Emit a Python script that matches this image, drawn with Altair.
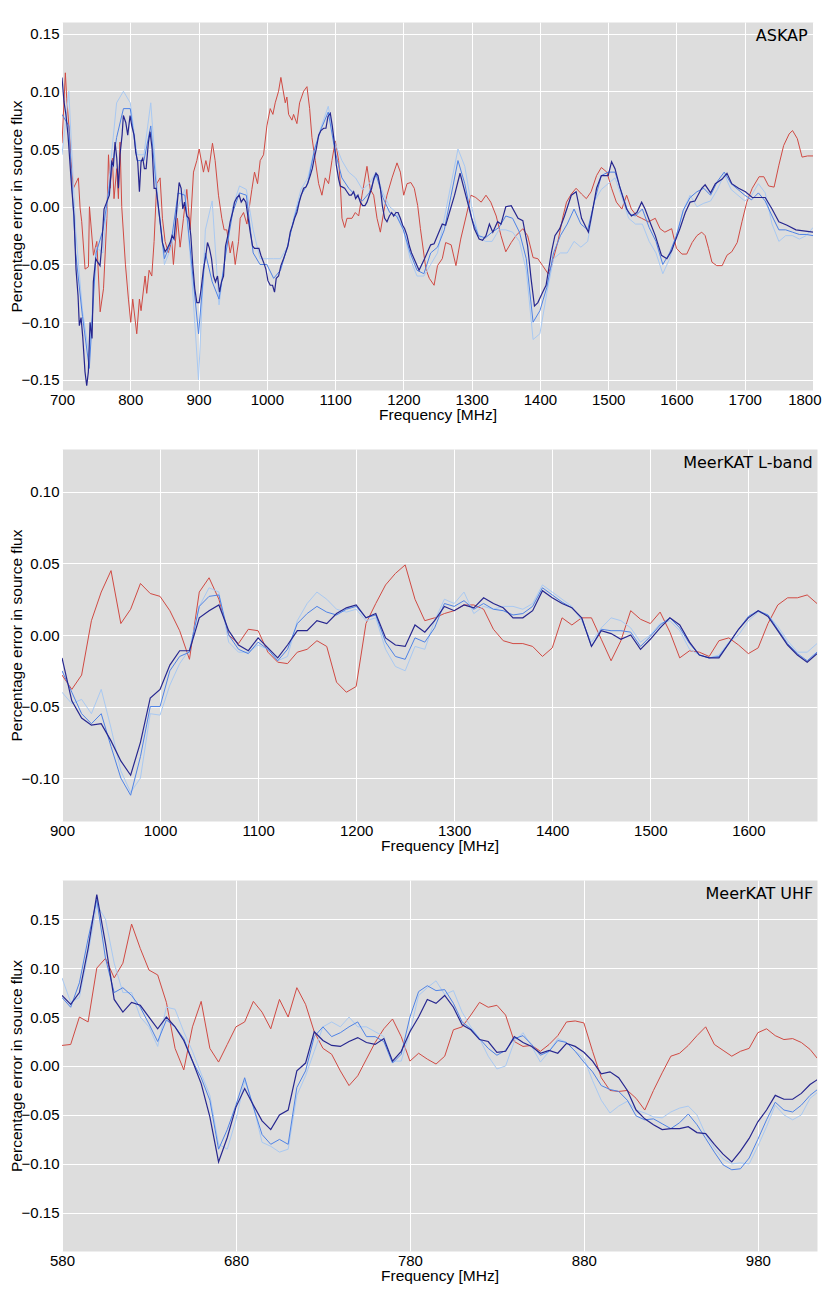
import altair as alt
import pandas as pd

# ---------------- ASKAP panel (700-1800 MHz) ----------------
# dark-blue and red curves: (frequency MHz, fractional error) points
ASKAP_NAVY_PTS = [
    (700.0, 0.112), (702.9, 0.091), (705.9, 0.079), (708.8, 0.062), (714.2, 0.016),
    (717.6, -0.008), (720.5, -0.054), (723.5, -0.077), (725.4, -0.103), (727.9, -0.096),
    (730.3, -0.112), (733.7, -0.143), (736.2, -0.155), (738.6, -0.143), (741.1, -0.100),
    (744.0, -0.114), (745.9, -0.065), (749.4, -0.045), (752.3, -0.048), (755.7, -0.051),
    (758.2, -0.034), (761.6, -0.002), (765.5, 0.004), (769.4, 0.010), (772.8, 0.039),
    (775.3, 0.036), (777.7, 0.056), (780.2, 0.042), (782.6, 0.016), (785.0, 0.045),
    (788.0, 0.062), (789.9, 0.079), (793.4, 0.073), (796.3, 0.062), (799.7, 0.079),
    (802.2, 0.070), (805.6, 0.062), (808.0, 0.047), (810.9, 0.039), (813.4, 0.013),
    (815.8, 0.039), (818.3, 0.042), (820.7, 0.033), (823.2, 0.033), (826.6, 0.056),
    (829.0, 0.065), (832.0, 0.050), (834.9, 0.016), (837.8, 0.016), (840.3, 0.004),
    (843.7, -0.013), (847.1, -0.031), (851.0, -0.039), (854.4, -0.036), (858.4, -0.031),
    (861.3, -0.025), (864.2, -0.028), (868.1, -0.002), (871.6, 0.021), (874.5, 0.016),
    (876.9, -0.002), (879.4, 0.004), (882.8, -0.008), (885.7, -0.010), (888.7, -0.025),
    (891.6, -0.051), (894.5, -0.071), (897.5, -0.083), (900.9, -0.083), (903.8, -0.071),
    (907.2, -0.054), (910.7, -0.042), (913.1, -0.031), (916.0, -0.036), (919.0, -0.045),
    (921.9, -0.060), (924.8, -0.065), (927.8, -0.060), (930.7, -0.074), (933.6, -0.065),
    (936.6, -0.060), (939.5, -0.034), (942.9, -0.025), (946.3, -0.013), (949.8, -0.005),
    (952.7, 0.004), (956.1, 0.008), (959.5, 0.010), (962.5, 0.004), (965.9, 0.007),
    (969.3, 0.004), (972.2, -0.008), (975.7, -0.022), (979.1, -0.034), (982.0, -0.036),
    (985.4, -0.036), (988.4, -0.036), (991.3, -0.042), (995.2, -0.048), (998.6, -0.054),
    (1001.6, -0.064), (1005.0, -0.068), (1008.4, -0.068), (1011.3, -0.074), (1013.8, -0.062),
    (1017.2, -0.060), (1020.6, -0.051), (1024.5, -0.045), (1028.0, -0.039), (1030.9, -0.034),
    (1034.3, -0.022), (1037.7, -0.016), (1040.7, -0.010), (1044.1, -0.005), (1047.5, 0.004),
    (1050.4, 0.010), (1053.9, 0.016), (1057.3, 0.017), (1060.2, 0.021), (1063.6, 0.027),
    (1066.6, 0.033), (1069.5, 0.042), (1072.4, 0.050), (1075.9, 0.062), (1079.3, 0.066),
    (1083.2, 0.068), (1086.6, 0.068), (1089.5, 0.078), (1093.0, 0.081), (1095.9, 0.070),
    (1098.8, 0.056), (1101.8, 0.036), (1105.2, 0.024), (1107.6, 0.018), (1111.0, 0.017),
    (1114.0, 0.016), (1117.4, 0.013), (1120.8, 0.010), (1123.8, 0.010), (1127.2, 0.013),
    (1130.1, 0.007), (1133.5, 0.010), (1137.0, 0.004), (1140.4, 0.001), (1143.8, 0.001),
    (1146.7, 0.004), (1150.1, 0.010), (1153.6, 0.016), (1156.5, 0.024), (1159.9, 0.029),
    (1162.8, 0.027), (1166.3, 0.016), (1169.2, 0.001), (1172.6, -0.010), (1176.0, -0.013),
    (1179.5, -0.008), (1182.9, -0.005), (1185.8, -0.008), (1189.2, -0.005), (1192.2, -0.005),
    (1195.6, -0.010), (1199.0, -0.016), (1201.9, -0.019), (1205.4, -0.025), (1208.8, -0.034),
    (1212, -0.040), (1223, -0.055), (1231, -0.045), (1240, -0.033), (1245, -0.032),
    (1257, -0.015), (1262, -0.016), (1275, 0.010), (1283, 0.029), (1294, 0.004),
    (1304, -0.019), (1311, -0.028), (1316, -0.029), (1321, -0.025), (1326, -0.015),
    (1331, -0.022), (1338, -0.013), (1343, -0.015), (1350, 0.000), (1358, 0.001),
    (1368, -0.010), (1375, -0.012), (1382, -0.034), (1387, -0.062), (1392, -0.086),
    (1397, -0.083), (1404, -0.074), (1409, -0.068), (1417, -0.039), (1422, -0.025),
    (1429, -0.019), (1436, -0.008), (1446, 0.010), (1453, 0.013), (1461, -0.010),
    (1471, -0.022), (1475, -0.010), (1483, 0.016), (1490, 0.027), (1500, 0.027),
    (1505, 0.039), (1510, 0.033), (1517, 0.017), (1527, -0.002), (1534, -0.008),
    (1542, -0.005), (1549, 0.004), (1554, -0.002), (1561, -0.013), (1569, -0.025),
    (1578, -0.042), (1586, -0.045), (1593, -0.038), (1598, -0.030), (1605, -0.019),
    (1613, -0.005), (1620, 0.004), (1627, 0.005), (1637, 0.016), (1642, 0.019),
    (1650, 0.012), (1657, 0.020), (1667, 0.024), (1674, 0.029), (1681, 0.020),
    (1691, 0.016), (1701, 0.013), (1711, 0.008), (1721, 0.008), (1730, 0.008),
    (1740, -0.002), (1750, -0.013), (1762, -0.016), (1775, -0.020), (1800, -0.022),
]
ASKAP_RED_PTS = [
    (700.0, 0.055), (704.9, 0.116), (706.9, 0.094), (710.8, 0.065), (713.2, 0.039),
    (716.7, 0.016), (724.0, 0.025), (726.5, -0.001), (728.9, -0.013), (733.8, -0.054),
    (738.7, -0.052), (740.2, 0.000), (746.1, -0.042), (751.0, -0.030), (755.9, -0.091),
    (760.8, -0.071), (765.7, -0.010), (768.1, 0.045), (770.4, 0.016), (773.8, 0.042),
    (776.2, 0.007), (780.2, 0.033), (782.6, 0.007), (785.0, 0.056), (787.5, 0.000),
    (792.9, -0.050), (797.3, -0.080), (800.7, -0.100), (803.6, -0.080), (809.5, -0.110),
    (813.4, -0.080), (815.8, -0.090), (821.7, -0.060), (824.1, -0.075), (827.6, -0.055),
    (831.5, -0.060), (834.9, -0.030), (838.8, 0.020), (843.7, 0.025), (847.1, -0.010),
    (851.0, -0.030), (855.9, -0.040), (860.8, -0.030), (863.2, -0.050), (869.1, -0.010),
    (873.0, -0.035), (877.9, -0.010), (882.8, 0.015), (887.7, -0.020), (892.6, 0.030),
    (897.5, 0.040), (900.9, 0.050), (907.2, 0.030), (910.7, 0.040), (914.6, 0.030),
    (920.4, 0.055), (924.3, 0.040), (929.2, 0.010), (934.1, -0.010), (937.5, -0.020),
    (941.4, -0.020), (946.3, -0.040), (949.8, -0.030), (953.7, -0.050), (958.6, -0.030),
    (961.0, -0.010), (965.9, -0.005), (970.8, -0.015), (978.1, 0.015), (982.0, 0.030),
    (986.4, 0.020), (990.3, 0.040), (995.2, 0.045), (1000.1, 0.070), (1005.0, 0.085),
    (1008.9, 0.080), (1012.3, 0.090), (1017.2, 0.100), (1020.6, 0.112), (1027.0, 0.090),
    (1029.4, 0.095), (1031.9, 0.080), (1036.8, 0.075), (1039.2, 0.080), (1044.1, 0.072),
    (1048.0, 0.090), (1053.9, 0.100), (1058.8, 0.104), (1062.7, 0.085), (1066.1, 0.060),
    (1071.0, 0.040), (1075.9, 0.020), (1080.7, 0.010), (1085.6, 0.025), (1090.5, 0.020),
    (1095.4, 0.040), (1100.3, 0.057), (1105.2, 0.040), (1107.6, 0.020), (1110.1, -0.010),
    (1114.0, -0.018), (1117.4, -0.010), (1124.7, -0.010), (1129.6, -0.005), (1134.5, -0.008),
    (1139.4, 0.010), (1146.7, 0.035), (1151.6, 0.015), (1156.5, 0.010), (1161.4, -0.010),
    (1166.3, -0.022), (1171.1, -0.005), (1176.0, 0.010), (1183.4, 0.025), (1190.7, 0.038),
    (1195.6, 0.030), (1200.5, 0.010), (1205.4, 0.020), (1211, 0.021), (1216, 0.016),
    (1221, 0.001), (1225, -0.019), (1233, -0.054), (1238, -0.062), (1245, -0.068),
    (1250, -0.051), (1257, -0.045), (1262, -0.031), (1270, -0.033), (1277, -0.051),
    (1284, -0.028), (1292, -0.008), (1299, 0.010), (1306, 0.008), (1314, 0.004),
    (1321, 0.010), (1328, 0.004), (1336, -0.008), (1343, -0.025), (1350, -0.039),
    (1358, -0.031), (1365, -0.025), (1375, -0.019), (1382, -0.025), (1390, -0.044),
    (1397, -0.045), (1404, -0.051), (1412, -0.058), (1417, -0.051), (1426, -0.031),
    (1434, -0.008), (1439, 0.004), (1446, 0.011), (1453, 0.016), (1461, 0.011),
    (1468, 0.007), (1475, 0.013), (1483, 0.027), (1490, 0.034), (1498, 0.030),
    (1505, 0.016), (1512, 0.004), (1520, -0.002), (1527, 0.010), (1534, -0.002),
    (1542, -0.008), (1549, -0.010), (1559, -0.013), (1569, -0.010), (1576, -0.019),
    (1583, -0.022), (1593, -0.019), (1600, -0.036), (1608, -0.041), (1615, -0.041),
    (1623, -0.031), (1630, -0.025), (1637, -0.022), (1642, -0.025), (1647, -0.036),
    (1652, -0.048), (1659, -0.051), (1667, -0.051), (1674, -0.042), (1681, -0.039),
    (1689, -0.031), (1696, -0.013), (1703, 0.004), (1711, 0.016), (1721, 0.026),
    (1728, 0.026), (1735, 0.018), (1743, 0.017), (1750, 0.036), (1757, 0.053),
    (1765, 0.063), (1770, 0.066), (1777, 0.059), (1784, 0.043), (1792, 0.044),
    (1800, 0.044),
]
# mid-blue and light-blue curves sampled every 10 MHz
ASKAP_FREQ = [
    700, 710, 720, 730, 740, 750, 760, 770, 780, 790,
    800, 810, 820, 830, 840, 850, 860, 870, 880, 890,
    900, 910, 920, 930, 940, 950, 960, 970, 980, 990,
    1000, 1010, 1020, 1030, 1040, 1050, 1060, 1070, 1080, 1090,
    1100, 1110, 1120, 1130, 1140, 1150, 1160, 1170, 1180, 1190,
    1200, 1210, 1220, 1230, 1240, 1250, 1260, 1270, 1280, 1290,
    1300, 1310, 1320, 1330, 1340, 1350, 1360, 1370, 1380, 1390,
    1400, 1410, 1420, 1430, 1440, 1450, 1460, 1470, 1480, 1490,
    1500, 1510, 1520, 1530, 1540, 1550, 1560, 1570, 1580, 1590,
    1600, 1610, 1620, 1630, 1640, 1650, 1660, 1670, 1680, 1690,
    1700, 1710, 1720, 1730, 1740, 1750, 1760, 1770, 1780, 1790,
    1800,
]
ASKAP_MID = [
    0.080, 0.070, -0.040, -0.095, -0.140, -0.040, -0.020, 0.020, 0.060, 0.085,
    0.085, 0.040, 0.040, 0.070, 0.005, -0.045, -0.030, 0.012, 0.010, -0.050,
    -0.110, -0.040, -0.065, -0.080, -0.040, -0.005, 0.012, 0.010, -0.040, -0.050,
    -0.050, -0.062, -0.055, -0.035, -0.010, 0.010, 0.020, 0.050, 0.068, 0.082,
    0.048, 0.025, 0.016, 0.010, 0.005, 0.012, 0.028, 0.008, -0.005, -0.008,
    -0.020, -0.040, -0.055, -0.058, -0.040, -0.035, -0.020, 0.010, 0.040, 0.020,
    -0.010, -0.025, -0.027, -0.022, -0.018, -0.008, -0.010, -0.022, -0.045, -0.100,
    -0.090, -0.070, -0.040, -0.025, -0.015, -0.002, -0.015, -0.020, 0.005, 0.027,
    0.030, 0.030, 0.012, -0.006, -0.008, -0.002, -0.018, -0.030, -0.050, -0.040,
    -0.025, -0.003, 0.008, 0.013, 0.016, 0.010, 0.022, 0.030, 0.020, 0.015,
    0.010, 0.006, 0.012, 0.005, -0.008, -0.020, -0.020, -0.022, -0.024, -0.024,
    -0.025,
]
ASKAP_LIGHT = [
    0.045, 0.100, -0.020, -0.090, -0.130, -0.035, -0.040, 0.030, 0.090, 0.100,
    0.090, 0.045, 0.045, 0.090, 0.010, -0.050, -0.035, 0.000, 0.015, -0.060,
    -0.150, -0.020, 0.005, -0.085, -0.040, 0.000, 0.018, 0.015, -0.020, -0.045,
    -0.045, -0.045, -0.045, -0.035, -0.008, 0.015, 0.025, 0.050, 0.070, 0.087,
    0.055, 0.040, 0.030, 0.025, 0.015, 0.020, 0.030, 0.012, 0.000, -0.005,
    -0.020, -0.045, -0.060, -0.060, -0.050, -0.040, -0.010, 0.020, 0.050, 0.035,
    0.000, -0.025, -0.030, -0.030, -0.020, -0.020, -0.022, -0.030, -0.055, -0.115,
    -0.110, -0.075, -0.045, -0.040, -0.040, -0.030, -0.035, -0.030, 0.005, 0.015,
    0.020, 0.025, 0.008, -0.010, -0.015, -0.015, -0.030, -0.040, -0.058, -0.045,
    -0.025, -0.003, 0.010, 0.000, 0.003, 0.005, 0.015, 0.028, 0.015, 0.010,
    0.005, 0.010, 0.020, 0.012, -0.015, -0.030, -0.025, -0.025, -0.028, -0.025,
    -0.018,
]

# ---------------- MeerKAT L-band panel (900-1670 MHz) ----------------
LBAND_FREQ = [
    900, 910, 920, 930, 940, 950, 960, 970, 980, 990,
    1000, 1010, 1020, 1030, 1040, 1050, 1060, 1070, 1080, 1090,
    1100, 1110, 1120, 1130, 1140, 1150, 1160, 1170, 1180, 1190,
    1200, 1210, 1220, 1230, 1240, 1250, 1260, 1270, 1280, 1290,
    1300, 1310, 1320, 1330, 1340, 1350, 1360, 1370, 1380, 1390,
    1400, 1410, 1420, 1430, 1440, 1450, 1460, 1470, 1480, 1490,
    1500, 1510, 1520, 1530, 1540, 1550, 1560, 1570, 1580, 1590,
    1600, 1610, 1620, 1630, 1640, 1650, 1660, 1670,
]
LBAND_RED = [
    -0.028, -0.038, -0.028, 0.010, 0.030, 0.045, 0.008, 0.018, 0.036, 0.029,
    0.027, 0.017, 0.003, -0.017, 0.030, 0.040, 0.025, 0.000, -0.006, 0.004,
    0.003, -0.012, -0.019, -0.020, -0.012, -0.010, -0.004, -0.008, -0.033, -0.040,
    -0.036, 0.008, 0.022, 0.035, 0.043, 0.049, 0.025, 0.010, 0.012, 0.015,
    0.017, 0.021, 0.021, 0.018, 0.004, -0.004, -0.006, -0.006, -0.008, -0.015,
    -0.009, 0.012, 0.007, 0.012, 0.012, -0.003, -0.018, -0.004, 0.017, 0.011,
    0.008, 0.016, 0.002, -0.016, -0.011, -0.012, -0.015, -0.004, -0.002, -0.007,
    -0.013, -0.009, 0.008, 0.021, 0.026, 0.026, 0.028, 0.022,
]
LBAND_NAVY = [
    -0.016, -0.046, -0.058, -0.063, -0.062, -0.074, -0.088, -0.098, -0.075, -0.044,
    -0.038, -0.021, -0.011, -0.011, 0.012, 0.017, 0.021, 0.003, -0.007, -0.011,
    -0.002, -0.009, -0.016, -0.007, 0.003, 0.003, 0.010, 0.008, 0.015, 0.019,
    0.021, 0.012, 0.015, -0.002, -0.007, -0.008, 0.007, 0.002, 0.010, 0.020,
    0.017, 0.021, 0.019, 0.026, 0.022, 0.019, 0.012, 0.012, 0.017, 0.031,
    0.026, 0.022, 0.019, 0.012, -0.008, 0.003, 0.001, -0.003, 0.000, -0.010,
    -0.003, 0.005, 0.012, 0.007, -0.005, -0.014, -0.016, -0.016, -0.006, 0.004,
    0.012, 0.017, 0.013, 0.003, -0.007, -0.014, -0.019, -0.013,
]
LBAND_MID = [
    -0.025, -0.040, -0.055, -0.062, -0.055, -0.078, -0.100, -0.112, -0.085, -0.050,
    -0.050, -0.025, -0.015, -0.012, 0.020, 0.027, 0.028, 0.000, -0.010, -0.013,
    -0.005, -0.010, -0.018, -0.010, 0.008, 0.015, 0.020, 0.016, 0.014, 0.018,
    0.020, 0.012, 0.014, -0.005, -0.015, -0.017, -0.002, -0.005, 0.005, 0.022,
    0.020, 0.024, 0.018, 0.022, 0.018, 0.017, 0.014, 0.015, 0.020, 0.033,
    0.028, 0.023, 0.019, 0.012, -0.008, 0.004, 0.003, 0.003, 0.002, -0.008,
    -0.001, 0.007, 0.012, 0.005, -0.006, -0.014, -0.016, -0.015, -0.006, 0.004,
    0.013, 0.017, 0.014, 0.004, -0.006, -0.013, -0.018, -0.012,
]
LBAND_LIGHT = [
    -0.040, -0.048, -0.045, -0.055, -0.038, -0.065, -0.095, -0.110, -0.100, -0.055,
    -0.056, -0.035, -0.020, -0.010, 0.020, 0.033, 0.030, -0.005, -0.012, -0.012,
    -0.007, -0.010, -0.018, -0.015, 0.010, 0.022, 0.030, 0.025, 0.018, 0.016,
    0.018, 0.010, 0.012, -0.010, -0.022, -0.025, -0.008, -0.010, 0.010, 0.025,
    0.022, 0.030, 0.015, 0.020, 0.018, 0.020, 0.020, 0.018, 0.022, 0.035,
    0.030, 0.025, 0.020, 0.010, -0.005, 0.005, 0.012, 0.010, 0.005, -0.005,
    0.000, 0.008, 0.010, 0.003, -0.010, -0.014, -0.016, -0.014, -0.005, 0.000,
    0.010, 0.016, 0.014, 0.006, -0.004, -0.012, -0.012, -0.006,
]

# ---------------- MeerKAT UHF panel (580-1015 MHz) ----------------
UHF_FREQ = [
    580, 585, 590, 595, 600, 605, 610, 615, 620, 625,
    630, 635, 640, 645, 650, 655, 660, 665, 670, 675,
    680, 685, 690, 695, 700, 705, 710, 715, 720, 725,
    730, 735, 740, 745, 750, 755, 760, 765, 770, 775,
    780, 785, 790, 795, 800, 805, 810, 815, 820, 825,
    830, 835, 840, 845, 850, 855, 860, 865, 870, 875,
    880, 885, 890, 895, 900, 905, 910, 915, 920, 925,
    930, 935, 940, 945, 950, 955, 960, 965, 970, 975,
    980, 985, 990, 995, 1000, 1005, 1010, 1015,
]
UHF_RED = [
    0.021, 0.022, 0.050, 0.045, 0.100, 0.110, 0.090, 0.105, 0.145, 0.120,
    0.098, 0.093, 0.065, 0.018, -0.004, 0.040, 0.066, 0.018, 0.004, 0.022,
    0.040, 0.045, 0.066, 0.055, 0.038, 0.068, 0.050, 0.080, 0.063, 0.035,
    0.018, 0.012, -0.005, -0.020, -0.010, 0.007, 0.024, 0.038, 0.048, 0.030,
    0.005, 0.013, 0.007, 0.002, 0.010, 0.037, 0.040, 0.052, 0.065, 0.060,
    0.062, 0.052, 0.025, 0.020, 0.021, 0.015, 0.022, 0.031, 0.045, 0.046,
    0.044, 0.015, -0.012, -0.025, -0.026, -0.025, -0.033, -0.045, -0.025, -0.007,
    0.010, 0.013, 0.021, 0.031, 0.040, 0.022, 0.016, 0.010, 0.015, 0.018,
    0.034, 0.038, 0.031, 0.027, 0.028, 0.024, 0.017, 0.006,
]
UHF_NAVY = [
    0.072, 0.063, 0.075, 0.120, 0.175, 0.125, 0.068, 0.055, 0.065, 0.062,
    0.050, 0.038, 0.050, 0.040, 0.026, 0.005, -0.018, -0.052, -0.098, -0.073,
    -0.042, -0.023, -0.040, -0.056, -0.065, -0.050, -0.045, -0.005, 0.003, 0.035,
    0.026, 0.021, 0.020, 0.025, 0.029, 0.024, 0.022, 0.028, 0.005, 0.015,
    0.035, 0.050, 0.068, 0.064, 0.072, 0.060, 0.042, 0.037, 0.027, 0.025,
    0.014, 0.015, 0.030, 0.024, 0.020, 0.013, 0.016, 0.013, 0.023, 0.020,
    0.014, 0.005, -0.008, -0.006, -0.012, -0.025, -0.045, -0.054, -0.060, -0.065,
    -0.064, -0.064, -0.062, -0.068, -0.069, -0.080, -0.090, -0.098, -0.087, -0.074,
    -0.057, -0.045, -0.030, -0.034, -0.034, -0.028, -0.019, -0.013,
]
UHF_MID = [
    0.070, 0.060, 0.085, 0.130, 0.170, 0.110, 0.075, 0.080, 0.072, 0.060,
    0.043, 0.025, 0.047, 0.040, 0.028, 0.005, -0.012, -0.035, -0.085, -0.065,
    -0.040, -0.012, -0.042, -0.070, -0.080, -0.075, -0.080, -0.022, -0.005, 0.030,
    0.040, 0.030, 0.034, 0.040, 0.045, 0.030, 0.030, 0.025, 0.003, 0.012,
    0.050, 0.076, 0.082, 0.077, 0.078, 0.064, 0.045, 0.038, 0.028, 0.018,
    0.011, 0.016, 0.028, 0.031, 0.022, 0.011, 0.015, 0.026, 0.024, 0.015,
    0.004, -0.006, -0.020, -0.024, -0.026, -0.035, -0.051, -0.055, -0.054, -0.059,
    -0.064, -0.058, -0.049, -0.060, -0.074, -0.088, -0.101, -0.106, -0.105, -0.094,
    -0.075, -0.055, -0.037, -0.045, -0.047, -0.040, -0.030, -0.023,
]
UHF_LIGHT = [
    0.090, 0.065, 0.070, 0.115, 0.165, 0.150, 0.105, 0.075, 0.075, 0.050,
    0.040, 0.020, 0.060, 0.058, 0.035, 0.015, -0.008, -0.030, -0.080, -0.085,
    -0.055, -0.015, -0.040, -0.078, -0.082, -0.088, -0.085, -0.030, -0.010, 0.015,
    0.040, 0.045, 0.040, 0.050, 0.040, 0.040, 0.035, 0.030, 0.005, 0.005,
    0.035, 0.072, 0.080, 0.087, 0.073, 0.077, 0.055, 0.040, 0.028, 0.010,
    -0.003, 0.000, 0.025, 0.034, 0.020, 0.004, 0.015, 0.028, 0.024, 0.015,
    0.008, -0.015, -0.035, -0.048, -0.041, -0.036, -0.045, -0.048, -0.052, -0.053,
    -0.047, -0.043, -0.041, -0.050, -0.070, -0.084, -0.095, -0.100, -0.099, -0.100,
    -0.082, -0.062, -0.040, -0.050, -0.055, -0.050, -0.033, -0.026,
]

ASKAP_XTICKS = [700, 800, 900, 1000, 1100, 1200, 1300, 1400, 1500, 1600, 1700, 1800]
LBAND_XTICKS = [900, 1000, 1100, 1200, 1300, 1400, 1500, 1600]
UHF_XTICKS = [580, 680, 780, 880, 980]
ASKAP_YTICKS = [-0.15, -0.10, -0.05, 0.0, 0.05, 0.10, 0.15]
LBAND_YTICKS = [-0.10, -0.05, 0.0, 0.05, 0.10]
UHF_YTICKS = [-0.15, -0.10, -0.05, 0.0, 0.05, 0.10, 0.15]

SERIES_ORDER = ["red", "light blue", "mid blue", "dark blue"]
STYLES = {
    "red": ("#d04a43", 1.0),
    "light blue": ("#a9c9f2", 1.0),
    "mid blue": ("#4f83e6", 1.0),
    "dark blue": ("#26268f", 1.2),
}


def make_panel(series, xdom, ydom, xticks, yticks, w, h, label, label_x):
    frames = []
    for name, freq, vals in series:
        assert len(vals) == len(freq), (label, name, len(vals), len(freq))
        frames.append(pd.DataFrame({"freq": freq, "value": vals, "series": name}))
    df = pd.concat(frames, ignore_index=True)

    last = xticks[-1]
    at_edge = xdom[1] - last < 1
    axis_kw = dict(
        values=xticks, format="d", title="Frequency [MHz]",
        labelPadding=2, titleY=29.5, titleBaseline="alphabetic",
        labelFlush=False, labelOverlap=False,
    )
    if at_edge:
        test = "datum.value == %d" % last
        axis_kw["labelAlign"] = alt.condition(test, alt.value("right"), alt.value("center"))
        axis_kw["labelOffset"] = alt.condition(test, alt.value(8), alt.value(0))
    xenc = alt.X(
        "freq:Q",
        scale=alt.Scale(domain=xdom, nice=False, zero=False),
        axis=alt.Axis(**axis_kw),
    )
    yenc = alt.Y(
        "value:Q",
        scale=alt.Scale(domain=ydom, nice=False, zero=False),
        axis=alt.Axis(
            values=yticks, format=".2f", title="Percentage error in source flux",
            labelPadding=3, titleX=-41, titleBaseline="alphabetic",
            titleAlign="center", labelOverlap=False,
        ),
    )
    layers = []
    for name in SERIES_ORDER:
        color, sw = STYLES[name]
        layers.append(
            alt.Chart(df)
            .transform_filter(alt.datum.series == name)
            .mark_line(color=color, strokeWidth=sw, clip=True)
            .encode(x=xenc, y=yenc)
        )
    txt = (
        alt.Chart(pd.DataFrame({"label": [label]}))
        .mark_text(font="DejaVu Sans", fontSize=16, align="right",
                   baseline="alphabetic", color="black")
        .encode(x=alt.value(label_x), y=alt.value(18.8), text="label:N")
    )
    return alt.layer(*layers, txt).properties(width=w, height=h)


p1 = make_panel(
    [
        ("red", [p[0] for p in ASKAP_RED_PTS], [p[1] for p in ASKAP_RED_PTS]),
        ("light blue", ASKAP_FREQ, ASKAP_LIGHT),
        ("mid blue", ASKAP_FREQ, ASKAP_MID),
        ("dark blue", [p[0] for p in ASKAP_NAVY_PTS], [p[1] for p in ASKAP_NAVY_PTS]),
    ],
    [700, 1800], [-0.1587, 0.16], ASKAP_XTICKS, ASKAP_YTICKS, 751, 368, "ASKAP", 745.7,
)
p2 = make_panel(
    [
        ("red", LBAND_FREQ, LBAND_RED),
        ("light blue", LBAND_FREQ, LBAND_LIGHT),
        ("mid blue", LBAND_FREQ, LBAND_MID),
        ("dark blue", LBAND_FREQ, LBAND_NAVY),
    ],
    [900, 1670], [-0.13, 0.13], LBAND_XTICKS, LBAND_YTICKS, 755, 372, "MeerKAT L-band", 750.7,
)
p3 = make_panel(
    [
        ("red", UHF_FREQ, UHF_RED),
        ("light blue", UHF_FREQ, UHF_LIGHT),
        ("mid blue", UHF_FREQ, UHF_MID),
        ("dark blue", UHF_FREQ, UHF_NAVY),
    ],
    [580, 1014], [-0.189, 0.19], UHF_XTICKS, UHF_YTICKS, 755, 371, "MeerKAT UHF", 751.3,
)

chart = (
    alt.vconcat(p1, p2, p3, spacing=59, bounds="flush")
    .properties(padding={"left": 0, "top": 13, "right": 0, "bottom": 3}, background="white")
    .configure_view(fill="#dddddd", stroke="transparent")
    .configure_axis(
        labelFont="Liberation Sans", labelFontSize=15, labelColor="black",
        titleFont="Liberation Sans", titleFontSize=15.5, titleFontWeight="normal",
        titleColor="black", domain=False, ticks=False, tickSize=0,
        grid=True, gridColor="#ffffff", gridWidth=1, gridOpacity=1,
    )
)

chart.save("out.html", embed_options={"renderer": "svg", "actions": False})
